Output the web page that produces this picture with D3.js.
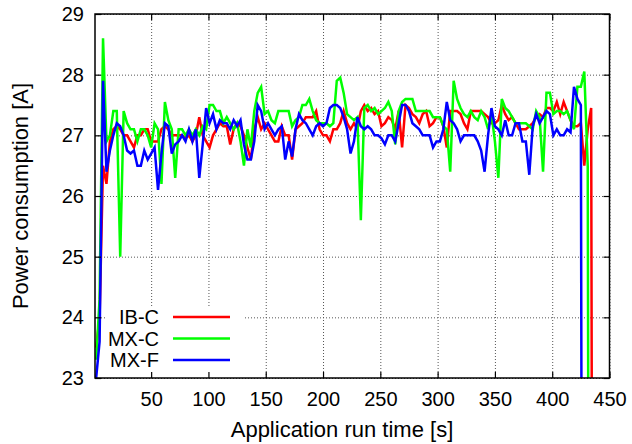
<!DOCTYPE html>
<html>
<head>
<meta charset="utf-8">
<script src="https://cdn.jsdelivr.net/npm/d3@7"></script>
<style>
  html, body { margin: 0; padding: 0; background: #fff; }
  svg { display: block; font-family: "Liberation Sans", Arial, Helvetica, sans-serif; }
</style>
</head>
<body>
<svg id="chart" width="632" height="444"></svg>
<script>
// Current drawn by each configuration, sampled every 3 s (A); 0 = supply switched off
const sampleTimes = d3.range(2, 438, 3);

const ibC = [
  23.5, 24.0, 26.5, 26.2, 26.9, 27.1, 27.15, 27.1, 27.0, 27.0, 26.9, 26.8, 27.0, 27.0, 27.1, 27.1, 26.9, 26.9, 26.9, 27.1, 27.15, 27.1, 27.0, 27.0, 27.0,
  27.0, 26.95, 27.0, 26.9, 27.0, 27.3, 27.0, 26.9, 26.8, 27.0, 27.1, 27.2, 27.15, 27.15, 26.85, 27.1, 27.2, 27.15, 27.0, 26.8, 26.6, 27.1, 27.3, 27.1, 27.2,
  27.1, 27.0, 26.9, 26.9, 27.15, 27.0, 27.0, 26.6, 27.1, 27.15, 27.2, 27.3, 27.3, 27.3, 27.4, 27.1, 27.0, 27.0, 26.9, 27.1, 27.1, 27.2, 27.4, 27.2, 27.1,
  27.2, 27.1, 27.4, 27.5, 27.4, 27.45, 27.35, 27.4, 27.15, 27.2, 27.3, 27.25, 27.1, 27.4, 26.8, 27.5, 27.45, 27.35, 27.3, 27.2, 27.35, 27.4, 27.15, 27.2, 27.3,
  27.3, 27.15, 26.8, 27.4, 27.4, 27.4, 27.35, 27.2, 27.1, 27.4, 27.4, 27.4, 27.4, 27.35, 27.3, 27.2, 27.2, 27.25, 27.5, 27.35, 27.25, 27.3, 27.2, 27.1, 27.1,
  27.1, 27.15, 27.2, 27.3, 27.35, 27.3, 27.45, 27.45, 27.4, 27.55, 27.35, 27.55, 27.4, 27.25, 27.15, 27.15, 27.2, 26.5, 27.1, 27.45, 0
];

const mxC = [
  23.3, 24.3, 28.6, 26.9, 27.0, 27.4, 27.4, 25.0, 27.4, 27.2, 27.1, 27.1, 26.9, 27.1, 27.1, 27.0, 26.8, 27.2, 27.1, 26.2, 27.55, 27.25, 27.1, 26.3, 27.1,
  27.1, 27.0, 27.1, 27.0, 27.1, 27.0, 27.15, 27.1, 27.5, 27.5, 27.4, 27.4, 27.2, 27.3, 27.2, 27.1, 27.2, 26.9, 26.5, 27.1, 26.8, 27.4, 27.7, 27.8, 27.35,
  27.4, 27.25, 27.2, 27.4, 27.4, 27.4, 27.4, 27.15, 27.25, 27.3, 27.5, 27.5, 27.6, 27.4, 27.25, 27.2, 27.2, 27.2, 27.15, 27.2, 27.9, 27.95, 27.7, 27.35, 27.3,
  27.25, 27.3, 25.6, 27.45, 27.5, 27.4, 27.45, 27.35, 27.4, 27.45, 27.55, 27.4, 26.85, 27.4, 27.55, 27.6, 27.6, 27.6, 27.4, 27.4, 27.4, 27.4, 27.4, 27.3, 27.3,
  27.3, 27.15, 27.1, 26.4, 27.9, 27.6, 27.45, 27.35, 27.3, 27.4, 27.3, 27.25, 27.4, 27.3, 27.1, 27.35, 26.9, 26.3, 27.6, 27.45, 27.4, 27.3, 27.2, 27.2, 27.2,
  27.2, 27.15, 27.1, 27.4, 27.3, 26.4, 27.7, 27.7, 27.35, 27.4, 27.4, 27.35, 27.4, 27.25, 27.1, 27.8, 27.8, 28.05, 26.5, 0, null
];

const mxF = [
  23.0, 23.6, 27.9, 26.4, 26.75, 27.0, 27.2, 27.15, 27.0, 26.75, 26.7, 26.75, 26.5, 26.5, 26.75, 26.6, 26.7, 26.8, 26.1, 26.7, 27.2, 27.15, 26.7, 26.85, 26.9,
  27.0, 26.9, 27.1, 26.9, 27.1, 26.3, 26.85, 27.45, 27.2, 27.35, 27.1, 27.25, 27.2, 27.2, 27.1, 27.25, 27.15, 27.25, 26.85, 26.6, 26.6, 26.9, 27.5, 27.4, 27.1,
  27.2, 27.1, 27.0, 27.1, 27.15, 26.6, 26.9, 26.65, 27.1, 27.35, 27.25, 27.2, 27.1, 27.0, 27.15, 27.2, 27.15, 27.2, 27.45, 27.5, 27.5, 27.45, 27.3, 27.1, 26.7,
  26.9, 27.3, 27.15, 27.1, 27.15, 27.1, 27.0, 27.0, 26.95, 26.85, 27.0, 27.0, 26.9, 27.2, 27.5, 27.5, 27.4, 27.2, 27.15, 27.1, 27.0, 27.0, 27.0, 26.8, 26.9,
  26.9, 27.1, 27.55, 27.25, 27.2, 27.1, 26.9, 27.0, 27.0, 27.0, 27.0, 26.9, 26.75, 26.4, 27.0, 27.45, 27.15, 27.1, 27.0, 27.25, 27.0, 27.0, 27.2, 27.2, 26.9,
  26.9, 26.35, 27.15, 27.35, 27.2, 27.3, 27.4, 27.35, 27.0, 27.1, 27.0, 27.0, 27.1, 27.05, 27.8, 27.6, 27.5, 0, null, null, null
];

const seriesNames = ["IB-C", "MX-C", "MX-F"];
const seriesValues = [ibC, mxC, mxF];
const seriesColors = ["#ff0000", "#00ff00", "#0000ff"];

const xTicks = [50, 100, 150, 200, 250, 300, 350, 400, 450];
const yTicks = [23, 24, 25, 26, 27, 28, 29];
const xDomain = [1, 450];
const yDomain = [23, 29];

const svg = d3.select("#chart");
const plot = { left: 95, right: 609.5, top: 14, bottom: 378 };
const tickFont = 20;
const titleFont = 22;

const x = d3.scaleLinear().domain(xDomain).range([plot.left, plot.right]);
const y = d3.scaleLinear().domain(yDomain).range([plot.bottom, plot.top]);

// dotted grid
const gridX = svg.append("g")
  .attr("transform", `translate(0,${plot.bottom})`)
  .call(d3.axisBottom(x).tickValues(xTicks).tickSize(-(plot.bottom - plot.top)).tickFormat(""));
const gridY = svg.append("g")
  .attr("transform", `translate(${plot.left},0)`)
  .call(d3.axisLeft(y).tickValues(yTicks).tickSize(-(plot.right - plot.left)).tickFormat(""));
[gridX, gridY].forEach(g => {
  g.select(".domain").remove();
  g.selectAll(".tick line")
    .attr("stroke", "#555")
    .attr("stroke-width", 1)
    .attr("stroke-dasharray", "1,2");
});

// key background
const key = svg.append("g");
key.append("rect")
  .attr("x", 105).attr("y", 306)
  .attr("width", 138).attr("height", plot.bottom - 306)
  .attr("fill", "#fff");

// data lines
svg.append("clipPath").attr("id", "plot-clip")
  .append("rect")
  .attr("x", plot.left).attr("y", plot.top)
  .attr("width", plot.right - plot.left).attr("height", plot.bottom - plot.top);

const line = d3.line()
  .defined(d => d.v !== null)
  .x(d => x(d.t))
  .y(d => y(d.v));

const lines = svg.append("g").attr("clip-path", "url(#plot-clip)");
seriesValues.forEach((vals, i) => {
  const pts = sampleTimes.map((t, j) => ({ t, v: vals[j] }));
  lines.append("path")
    .datum(pts)
    .attr("fill", "none")
    .attr("stroke", seriesColors[i])
    .attr("stroke-width", 2.5)
    .attr("stroke-linejoin", "miter")
    .attr("d", line);
});

// key entries
seriesNames.forEach((name, i) => {
  const cy = 317 + i * 21.5;
  key.append("text")
    .attr("x", 159).attr("y", cy)
    .attr("dy", "0.35em")
    .attr("text-anchor", "end")
    .attr("font-size", tickFont)
    .attr("fill", "#000")
    .text(name);
  key.append("line")
    .attr("x1", 173).attr("x2", 230)
    .attr("y1", cy).attr("y2", cy)
    .attr("stroke", seriesColors[i])
    .attr("stroke-width", 2.5);
});
svg.node().appendChild(key.node());

// axes with inward ticks on all four sides
const axB = svg.append("g").attr("transform", `translate(0,${plot.bottom})`)
  .call(d3.axisBottom(x).tickValues(xTicks).tickSize(-6).tickPadding(14).tickFormat(d3.format("d")));
const axT = svg.append("g").attr("transform", `translate(0,${plot.top})`)
  .call(d3.axisTop(x).tickValues(xTicks).tickSize(-6).tickFormat(""));
const axL = svg.append("g").attr("transform", `translate(${plot.left},0)`)
  .call(d3.axisLeft(y).tickValues(yTicks).tickSize(-6).tickPadding(11).tickFormat(d3.format("d")));
const axR = svg.append("g").attr("transform", `translate(${plot.right},0)`)
  .call(d3.axisRight(y).tickValues(yTicks).tickSize(-6).tickFormat(""));
[axB, axT, axL, axR].forEach(g => {
  g.select(".domain").remove();
  g.selectAll(".tick line").attr("stroke", "#000").attr("stroke-width", 1.2);
  g.selectAll(".tick text")
    .attr("font-size", tickFont)
    .attr("font-family", "'Liberation Sans', Arial, sans-serif")
    .attr("fill", "#000");
});

// frame
svg.append("rect")
  .attr("x", plot.left).attr("y", plot.top)
  .attr("width", plot.right - plot.left).attr("height", plot.bottom - plot.top)
  .attr("fill", "none").attr("stroke", "#000").attr("stroke-width", 1.5);

// axis titles
svg.append("text")
  .attr("x", 342).attr("y", 429)
  .attr("dy", "0.35em")
  .attr("text-anchor", "middle")
  .attr("font-size", titleFont)
  .text("Application run time [s]");
svg.append("text")
  .attr("transform", `translate(20,${(plot.top + plot.bottom) / 2}) rotate(-90)`)
  .attr("dy", "0.35em")
  .attr("text-anchor", "middle")
  .attr("font-size", titleFont)
  .text("Power consumption [A]");
</script>
</body>
</html>
